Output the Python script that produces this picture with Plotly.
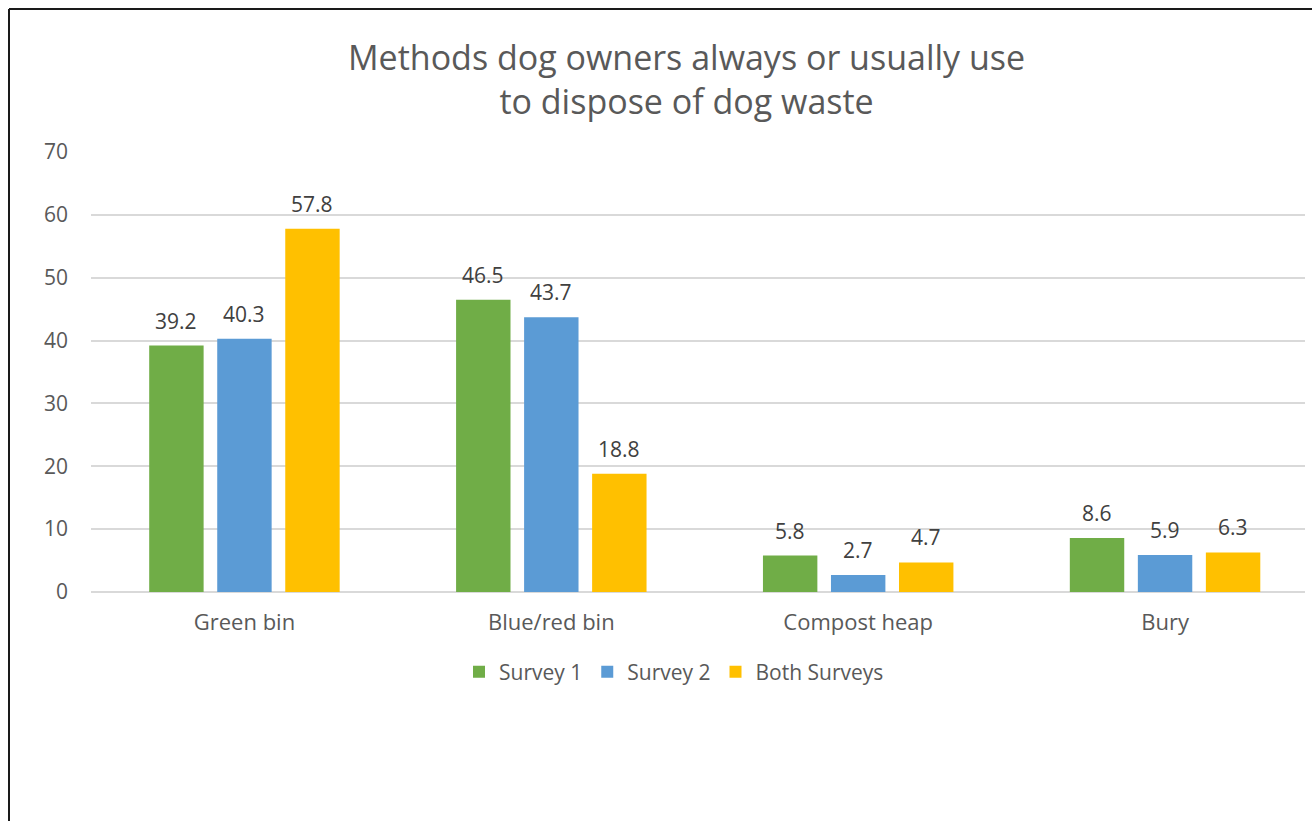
import plotly.graph_objects as go

# Survey results: share of dog owners (%) by disposal method
categories = ["Green bin", "Blue/red bin", "Compost heap", "Bury"]
survey_1 = [39.2, 46.5, 5.8, 8.6]
survey_2 = [40.3, 43.7, 2.7, 5.9]
both_surveys = [57.8, 18.8, 4.7, 6.3]
y_ticks = [0, 10, 20, 30, 40, 50, 60, 70]

series = [
    ("Survey 1", survey_1, "#70AD47"),
    ("Survey 2", survey_2, "#5B9BD5"),
    ("Both Surveys", both_surveys, "#FFC000"),
]

W, H = 1312, 821
L, R, T, B = 91, 7, 152, 229  # plot-area margins in pixels
plot_w = W - L - R
plot_h = H - T - B


def px_x(p):
    return (p - L) / plot_w


def px_y(p):
    return (H - B - p) / plot_h


BARGAP = 0.335
fig = go.Figure()
for name, vals, color in series:
    fig.add_trace(go.Bar(
        name=name,
        x=categories,
        y=vals,
        marker=dict(color=color, line=dict(width=0)),
        hoverinfo="skip",
    ))

# value labels above each bar
slot = (1 - BARGAP) / len(series)
annotations = []
for k, (name, vals, color) in enumerate(series):
    offset = (k - (len(series) - 1) / 2) * slot
    for i, v in enumerate(vals):
        annotations.append(dict(
            x=i + offset, y=v, xref="x", yref="y",
            text=f"{v:.1f}", showarrow=False,
            yanchor="middle", yshift=25,
            font=dict(family="Open Sans", size=21, color="#404040"),
        ))

# chart title
annotations.append(dict(
    x=px_x(686), y=px_y(79), xref="paper", yref="paper",
    xanchor="center", yanchor="middle", showarrow=False,
    text="Methods dog owners always or usually use<br>to dispose of dog waste",
    font=dict(family="Open Sans", size=34, color="#595959"),
))

fig.update_layout(
    width=W, height=H,
    margin=dict(l=L, r=R, t=T, b=B),
    paper_bgcolor="white",
    plot_bgcolor="white",
    barmode="group",
    bargap=BARGAP,
    bargroupgap=0.2,
    font=dict(family="Open Sans", size=21, color="#595959"),
    xaxis=dict(
        type="category",
        range=[-0.5, 3.5 - 13.5 / 307],
        showgrid=False, showline=False, zeroline=False,
        ticks="", ticklabelstandoff=15,
        tickfont=dict(family="Open Sans", size=22, color="#595959"),
    ),
    yaxis=dict(
        range=[0, 70],
        tickvals=y_ticks,
        showgrid=True, gridcolor="#D9D9D9", gridwidth=1.5,
        zeroline=True, zerolinecolor="#D9D9D9", zerolinewidth=1.5,
        showline=False, ticks="", ticklabelstandoff=22,
        tickfont=dict(family="Open Sans", size=21, color="#595959"),
    ),
    legend=dict(
        orientation="h",
        x=px_x(674), xanchor="center",
        y=px_y(672), yanchor="middle",
        font=dict(family="Open Sans", size=21, color="#595959"),
        itemclick=False,
    ),
    annotations=annotations,
    shapes=[
        dict(type="line", xref="paper", yref="paper",
             x0=px_x(9), x1=px_x(W), y0=px_y(9), y1=px_y(9),
             line=dict(color="#1A1A1A", width=2)),
        dict(type="line", xref="paper", yref="paper",
             x0=px_x(9), x1=px_x(9), y0=px_y(9), y1=px_y(H + 5),
             line=dict(color="#1A1A1A", width=2)),
    ],
)

fig.write_html("out.html")
